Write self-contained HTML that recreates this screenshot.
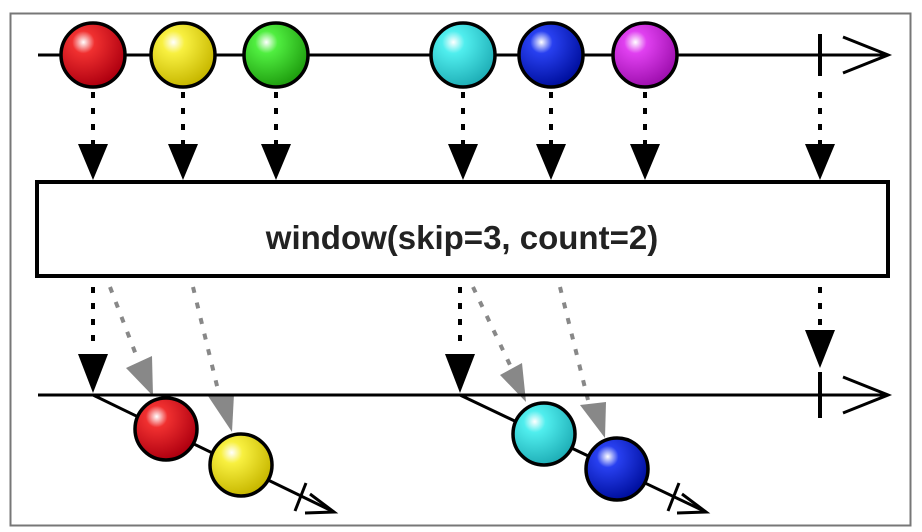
<!DOCTYPE html>
<html><head><style>body{margin:0;background:#fff}svg{display:block}</style></head><body>
<svg width="922" height="532" viewBox="0 0 922 532" xmlns="http://www.w3.org/2000/svg">
<defs>
<radialGradient id="gr" cx="35%" cy="30%" r="70%"><stop offset="0" stop-color="#fff"/><stop offset="0.25" stop-color="#f03030"/><stop offset="1" stop-color="#b00010"/></radialGradient>
<radialGradient id="gy" cx="35%" cy="30%" r="70%"><stop offset="0" stop-color="#fff"/><stop offset="0.25" stop-color="#f8f040"/><stop offset="1" stop-color="#c8b800"/></radialGradient>
<radialGradient id="gg" cx="35%" cy="30%" r="70%"><stop offset="0" stop-color="#fff"/><stop offset="0.25" stop-color="#50ee40"/><stop offset="1" stop-color="#20a010"/></radialGradient>
<radialGradient id="gc" cx="35%" cy="30%" r="70%"><stop offset="0" stop-color="#fff"/><stop offset="0.25" stop-color="#50eeee"/><stop offset="1" stop-color="#20b0b8"/></radialGradient>
<radialGradient id="gb" cx="35%" cy="30%" r="70%"><stop offset="0" stop-color="#fff"/><stop offset="0.25" stop-color="#2840f0"/><stop offset="1" stop-color="#0010a0"/></radialGradient>
<radialGradient id="gm" cx="35%" cy="30%" r="70%"><stop offset="0" stop-color="#fff"/><stop offset="0.25" stop-color="#e040f0"/><stop offset="1" stop-color="#a010b0"/></radialGradient>
</defs>
<rect x="10.5" y="13.5" width="900" height="512" fill="#fff" stroke="#777" stroke-width="2"/>
<line x1="38" y1="55" x2="888" y2="55" stroke="#000" stroke-width="3"/>
<polyline points="843,37 888,55 843,73" fill="none" stroke="#000" stroke-width="3"/>
<line x1="820" y1="34" x2="820" y2="76" stroke="#000" stroke-width="4"/>
<g stroke="#000" stroke-width="3.5">
<circle cx="93" cy="55" r="32" fill="url(#gr)"/>
<circle cx="183" cy="55" r="32" fill="url(#gy)"/>
<circle cx="276" cy="55" r="32" fill="url(#gg)"/>
<circle cx="463" cy="55" r="32" fill="url(#gc)"/>
<circle cx="551" cy="55" r="32" fill="url(#gb)"/>
<circle cx="645" cy="55" r="32" fill="url(#gm)"/>
</g>
<g stroke="#000" stroke-width="4" stroke-dasharray="6,10">
<line x1="93" y1="92" x2="93" y2="145"/><line x1="183" y1="92" x2="183" y2="145"/><line x1="276" y1="92" x2="276" y2="145"/>
<line x1="463" y1="92" x2="463" y2="145"/><line x1="551" y1="92" x2="551" y2="145"/><line x1="645" y1="92" x2="645" y2="145"/><line x1="820" y1="92" x2="820" y2="145"/>
</g>
<g fill="#000">
<polygon points="78,144 108,144 93,180"/><polygon points="168,144 198,144 183,180"/><polygon points="261,144 291,144 276,180"/>
<polygon points="448,144 478,144 463,180"/><polygon points="536,144 566,144 551,180"/><polygon points="630,144 660,144 645,180"/><polygon points="805,144 835,144 820,180"/>
</g>
<rect x="37" y="182" width="851" height="94" fill="#fff" stroke="#000" stroke-width="4"/>
<text x="462" y="249" text-anchor="middle" font-family="Liberation Sans, sans-serif" font-weight="bold" font-size="33" fill="#222">window(skip=3, count=2)</text>
<g stroke="#888" stroke-width="4" stroke-dasharray="6,10">
<line x1="110" y1="287" x2="138" y2="360"/><line x1="193" y1="287" x2="218" y2="390"/>
<line x1="473" y1="287" x2="510" y2="365"/><line x1="560" y1="287" x2="588" y2="400"/>
</g>
<g fill="#888">
<polygon points="126,368 152,356 153,396"/><polygon points="208,396 234,394 232,432"/>
<polygon points="500,375 522,363 526,402"/><polygon points="580,405 606,402 605,438"/>
</g>
<g stroke="#000" stroke-width="4" stroke-dasharray="6,10">
<line x1="93" y1="287" x2="93" y2="350"/><line x1="460" y1="287" x2="460" y2="350"/><line x1="820" y1="287" x2="820" y2="326"/>
</g>
<g fill="#000">
<polygon points="78,354 108,354 93,393"/><polygon points="445,354 475,354 460,393"/><polygon points="805,330 835,330 820,368"/>
</g>
<line x1="38" y1="395" x2="888" y2="395" stroke="#000" stroke-width="3"/>
<polyline points="843,377 888,395 843,413" fill="none" stroke="#000" stroke-width="3"/>
<line x1="820" y1="372" x2="820" y2="418" stroke="#000" stroke-width="4"/>
<line x1="93" y1="395" x2="334" y2="512" stroke="#000" stroke-width="3"/>
<polyline points="310,494 334,512 305,513" fill="none" stroke="#000" stroke-width="3"/>
<line x1="306" y1="483" x2="295" y2="511" stroke="#000" stroke-width="3"/>
<circle cx="166" cy="429" r="31" fill="url(#gr)" stroke="#000" stroke-width="3.5"/>
<circle cx="241" cy="465" r="31" fill="url(#gy)" stroke="#000" stroke-width="3.5"/>
<line x1="460" y1="395" x2="706" y2="512" stroke="#000" stroke-width="3"/>
<polyline points="682,494 706,512 677,513" fill="none" stroke="#000" stroke-width="3"/>
<line x1="679" y1="483" x2="668" y2="511" stroke="#000" stroke-width="3"/>
<circle cx="544" cy="434" r="31" fill="url(#gc)" stroke="#000" stroke-width="3.5"/>
<circle cx="617" cy="469" r="31" fill="url(#gb)" stroke="#000" stroke-width="3.5"/>
</svg>
</body></html>
